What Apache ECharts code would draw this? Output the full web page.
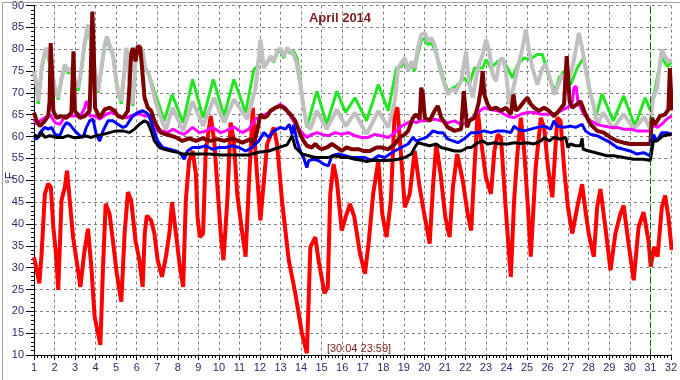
<!DOCTYPE html>
<html>
<head>
<meta charset="utf-8">
<script src="https://cdn.jsdelivr.net/npm/echarts@6/dist/echarts.min.js"></script>
<style>html,body{margin:0;padding:0;background:#fff}#c{width:680px;height:380px}</style>
</head>
<body>
<div id="c"></div>
<script>
// ---- data (day of month, °F) ----
var titleText = 'April 2014';
var stampText = '[30:04 23:59]';
var unitText = '°F';
var endDay = 31;

var red = [[1.0,32.4],[1.1,30.2],[1.26,26.4],[1.37,33.2],[1.53,46.9],[1.69,49.2],[1.82,48.4],[1.94,39.3],[2.07,33.2],[2.18,24.9],[2.34,45.4],[2.5,48.4],[2.61,52.2],[2.74,45.4],[2.9,37.0],[3.07,31.7],[3.26,25.6],[3.44,33.2],[3.63,38.9],[3.79,30.2],[3.95,18.8],[4.23,12.3],[4.36,30.2],[4.49,44.6],[4.68,42.3],[4.84,36.2],[5.03,28.6],[5.25,22.2],[5.41,37.8],[5.57,47.3],[5.73,45.4],[5.94,36.2],[6.13,31.7],[6.29,25.6],[6.39,37.8],[6.49,41.9],[6.7,40.8],[6.86,37.8],[7.02,31.7],[7.23,27.9],[7.42,32.5],[7.59,37.8],[7.72,45.0],[7.91,37.8],[8.1,30.2],[8.26,25.6],[8.39,45.4],[8.55,54.5],[8.72,56.7],[8.88,51.4],[8.96,41.6],[9.07,37.0],[9.23,37.8],[9.36,56.7],[9.6,64.7],[9.77,59.0],[9.93,48.4],[10.09,37.8],[10.22,31.7],[10.41,45.4],[10.57,63.2],[10.73,59.0],[10.89,46.9],[11.14,37.8],[11.3,32.5],[11.46,49.2],[11.65,66.6],[11.8,55.0],[12.02,40.8],[12.35,58.3],[12.67,62.1],[12.83,58.3],[13.07,45.4],[13.4,31.7],[13.72,24.1],[14.04,15.0],[14.28,10.4],[14.37,22.6],[14.45,34.7],[14.69,37.0],[14.85,31.7],[15.14,24.1],[15.3,25.6],[15.42,46.9],[15.58,53.7],[15.74,49.9],[15.98,38.5],[16.17,41.6],[16.38,44.6],[16.59,41.6],[16.87,33.2],[17.11,28.6],[17.3,36.2],[17.51,46.9],[17.76,54.5],[17.95,42.3],[18.16,37.0],[18.37,45.4],[18.56,65.9],[18.69,66.6],[18.85,56.7],[19.05,43.8],[19.29,46.9],[19.53,56.7],[19.77,48.4],[20.02,41.6],[20.26,35.5],[20.42,48.4],[20.58,58.3],[20.79,51.4],[21.02,41.6],[21.23,37.0],[21.39,48.4],[21.6,56.0],[21.87,49.9],[22.11,42.3],[22.28,38.5],[22.44,52.9],[22.6,65.9],[22.76,59.0],[23.0,50.6],[23.24,46.9],[23.41,56.7],[23.57,60.5],[23.73,59.8],[23.89,48.4],[24.05,37.8],[24.21,27.9],[24.37,45.4],[24.54,56.7],[24.7,64.3],[24.86,56.7],[25.02,45.4],[25.18,32.5],[25.42,52.9],[25.67,64.3],[25.83,62.1],[26.02,52.9],[26.23,46.1],[26.47,64.3],[26.63,63.6],[26.8,52.9],[26.99,43.8],[27.2,37.8],[27.44,43.8],[27.68,49.1],[27.84,43.1],[28.0,37.8],[28.25,32.5],[28.41,43.8],[28.57,48.0],[28.81,39.3],[29.06,29.4],[29.3,37.8],[29.54,42.3],[29.7,44.2],[29.94,35.5],[30.19,27.1],[30.43,39.3],[30.67,42.7],[30.91,36.2],[31.02,30.2],[31.19,34.7],[31.35,32.5],[31.56,43.8],[31.72,46.5],[31.88,41.6],[32.04,34.0]];

var green = [[1.0,74.5],[1.13,71.0],[1.21,67.5],[1.37,75.0],[1.53,79.0],[1.61,79.5],[1.69,78.0],[1.86,75.0],[2.02,70.5],[2.18,68.5],[2.34,73.0],[2.5,76.0],[2.66,74.5],[2.82,75.0],[2.99,72.0],[3.15,70.5],[3.31,75.0],[3.47,81.0],[3.63,84.5],[3.71,83.5],[3.79,80.5],[3.95,75.0],[4.12,70.0],[4.28,75.0],[4.44,80.5],[4.55,82.0],[4.68,80.5],[4.84,78.5],[4.97,73.5],[5.08,70.0],[5.25,67.5],[5.41,75.0],[5.49,79.5],[5.57,78.0],[5.65,72.0],[5.81,67.0],[5.97,79.0],[6.13,80.5],[6.29,79.0],[6.42,75.5],[6.59,74.5],[6.75,72.0],[6.91,69.5],[7.07,67.5],[7.34,63.6],[7.72,69.6],[8.26,63.2],[8.72,73.1],[9.23,64.3],[9.73,73.1],[10.25,64.7],[10.73,73.1],[11.3,65.5],[11.7,75.3],[11.86,76.0],[12.02,80.0],[12.19,75.7],[12.35,77.0],[12.51,78.0],[12.67,77.0],[12.83,79.0],[12.99,80.0],[13.15,78.0],[13.32,80.0],[13.48,79.0],[13.64,79.5],[13.8,78.0],[13.96,73.0],[14.12,67.0],[14.28,62.1],[14.77,70.4],[15.25,62.8],[15.74,70.4],[16.17,65.5],[16.62,68.9],[17.19,63.6],[17.76,71.9],[18.24,65.9],[18.64,75.7],[18.88,76.0],[19.05,77.0],[19.21,75.0],[19.37,76.5],[19.53,75.0],[19.69,79.0],[19.85,82.0],[20.02,82.5],[20.18,81.0],[20.34,81.5],[20.5,80.0],[20.74,76.5],[20.98,72.5],[21.15,70.5],[21.34,71.0],[21.55,71.5],[21.63,71.2],[21.95,73.4],[22.19,71.9],[22.44,75.7],[22.84,75.7],[23.0,77.6],[23.24,75.7],[23.57,77.2],[23.81,77.6],[24.05,75.7],[24.29,73.4],[24.54,76.5],[24.86,78.0],[25.1,77.6],[25.5,78.8],[25.75,78.8],[26.07,73.4],[26.39,70.4],[26.55,73.4],[26.8,75.0],[27.12,71.9],[27.44,75.7],[27.76,78.0],[28.09,70.0],[28.35,64.7],[28.65,69.7],[29.2,63.6],[29.7,69.3],[30.25,62.4],[30.75,68.9],[31.0,65.9],[31.05,68.0],[31.2,70.0],[31.4,75.0],[31.55,78.0],[31.7,77.0],[31.85,76.0],[32.0,77.0]];

var gray = [[1.0,75.0],[1.13,71.9],[1.21,68.1],[1.37,75.7],[1.53,79.5],[1.61,80.3],[1.69,78.8],[1.86,75.7],[2.02,71.2],[2.18,68.9],[2.34,73.4],[2.5,76.5],[2.66,75.0],[2.82,75.7],[2.99,72.7],[3.15,71.2],[3.31,75.7],[3.47,81.8],[3.63,85.6],[3.71,84.1],[3.79,81.0],[3.95,75.7],[4.12,70.4],[4.28,75.7],[4.44,81.0],[4.55,82.9],[4.68,81.0],[4.84,78.8],[4.97,74.2],[5.08,70.4],[5.25,68.1],[5.41,75.7],[5.49,80.3],[5.57,78.8],[5.65,72.7],[5.81,67.4],[5.97,79.5],[6.13,81.0],[6.29,79.5],[6.42,75.7],[6.59,74.2],[6.75,71.2],[6.91,68.1],[7.07,65.9],[7.26,63.2],[7.42,61.7],[7.75,66.6],[8.26,61.3],[8.72,68.1],[9.23,62.4],[9.77,68.9],[10.25,63.2],[10.73,68.5],[11.38,64.0],[11.6,68.0],[11.78,71.0],[11.9,76.0],[12.02,82.2],[12.19,75.7],[12.35,76.9],[12.51,78.4],[12.67,77.2],[12.83,79.5],[12.99,80.3],[13.15,78.4],[13.32,80.3],[13.48,79.5],[13.64,78.8],[13.8,76.5],[13.96,71.9],[14.12,66.6],[14.28,62.8],[14.45,61.7],[14.77,65.9],[15.25,61.7],[15.74,66.2],[16.17,62.4],[16.62,65.5],[17.19,60.5],[17.76,65.9],[18.24,62.1],[18.56,68.1],[18.72,75.7],[18.88,76.9],[19.05,78.0],[19.21,75.0],[19.37,77.2],[19.53,75.7],[19.69,80.3],[19.85,83.3],[20.02,83.7],[20.18,81.8],[20.34,82.6],[20.5,81.0],[20.74,75.7],[20.98,71.9],[21.15,69.6],[21.34,70.8],[21.55,70.4],[21.63,71.2],[21.79,72.7],[22.03,79.5],[22.19,71.9],[22.36,68.9],[22.6,75.7],[22.84,78.8],[23.0,82.2],[23.16,79.5],[23.32,74.2],[23.49,72.7],[23.65,77.2],[23.81,78.0],[23.97,75.0],[24.13,67.4],[24.37,71.9],[24.62,77.2],[24.78,80.3],[24.94,84.5],[25.1,79.5],[25.26,75.7],[25.5,71.9],[25.75,75.7],[25.91,76.5],[26.15,72.7],[26.31,69.6],[26.47,71.2],[26.71,74.2],[26.96,71.9],[27.2,75.7],[27.36,79.5],[27.52,83.7],[27.68,80.3],[27.84,75.7],[28.01,71.2],[28.25,67.0],[28.4,62.5],[28.7,65.5],[29.2,61.8],[29.7,65.2],[30.2,61.7],[30.7,64.5],[31.0,61.7],[31.08,67.0],[31.15,68.9],[31.32,71.0],[31.48,77.2],[31.56,79.9],[31.72,78.3],[31.88,77.2],[32.04,77.6]];

var maroon = [[1.0,65.5],[1.13,63.6],[1.29,62.4],[1.53,63.6],[1.69,64.7],[1.76,68.1],[1.81,81.4],[1.87,75.7],[1.94,65.9],[2.1,64.3],[2.34,64.7],[2.58,64.3],[2.82,65.5],[2.87,71.9],[2.92,79.5],[2.99,65.9],[3.23,64.3],[3.47,64.7],[3.71,65.9],[3.79,79.5],[3.84,88.6],[3.91,79.5],[3.97,66.6],[4.2,64.3],[4.44,66.2],[4.68,66.6],[4.92,65.9],[5.08,64.7],[5.33,64.3],[5.57,65.9],[5.65,71.9],[5.73,78.8],[5.81,80.3],[5.94,77.2],[6.05,80.7],[6.17,80.3],[6.26,75.7],[6.38,68.9],[6.54,66.6],[6.7,65.9],[6.86,63.6],[7.02,62.1],[7.18,60.9],[7.42,60.5],[7.67,60.2],[7.91,59.8],[8.23,59.0],[8.55,59.6],[8.88,59.0],[9.2,59.6],[9.6,59.0],[9.93,59.4],[10.25,59.0],[10.65,59.6],[11.14,58.6],[11.54,59.4],[11.7,58.3],[11.86,61.3],[12.02,65.1],[12.19,64.3],[12.35,64.7],[12.51,65.9],[12.75,66.6],[12.99,67.0],[13.15,66.6],[13.32,65.9],[13.48,65.1],[13.72,63.6],[13.96,60.5],[14.12,59.0],[14.28,57.9],[14.53,57.5],[14.69,58.3],[14.85,57.5],[15.01,57.1],[15.25,57.5],[15.5,58.3],[15.74,57.5],[15.98,56.7],[16.22,57.5],[16.46,57.1],[16.79,57.1],[17.03,56.7],[17.35,56.7],[17.67,57.5],[17.92,57.5],[18.24,57.1],[18.56,58.3],[18.8,59.8],[19.05,60.5],[19.21,61.3],[19.45,64.3],[19.61,65.1],[19.77,64.0],[19.85,71.2],[19.93,69.6],[20.02,64.3],[20.26,63.6],[20.5,65.9],[20.66,67.0],[20.82,64.3],[21.15,62.1],[21.47,61.3],[21.79,61.7],[21.92,70.4],[21.98,70.4],[22.08,62.1],[22.19,63.6],[22.44,64.3],[22.63,67.4],[22.76,71.2],[22.84,75.0],[22.92,69.6],[23.08,67.4],[23.24,66.2],[23.49,66.6],[23.73,65.9],[23.97,66.6],[24.21,65.1],[24.34,69.6],[24.45,65.9],[24.62,66.6],[24.86,68.1],[25.02,68.9],[25.18,67.4],[25.34,66.6],[25.58,65.9],[25.83,66.6],[26.07,65.9],[26.31,64.7],[26.55,65.9],[26.8,67.4],[26.88,74.2],[26.93,78.4],[26.99,74.2],[27.07,68.1],[27.2,66.6],[27.44,67.4],[27.6,68.1],[27.84,65.1],[28.09,62.8],[28.41,61.3],[28.73,60.9],[29.06,59.8],[29.38,59.0],[29.7,58.6],[30.02,58.3],[30.35,58.3],[31.0,58.3],[31.07,64.3],[31.23,62.8],[31.48,64.7],[31.72,65.1],[31.88,66.2],[31.95,75.7],[32.02,75.5],[32.05,66.0]];

var magenta = [[1.0,64.0],[1.13,62.8],[1.29,63.6],[1.53,64.3],[1.77,65.1],[2.02,63.2],[2.26,62.8],[2.42,64.0],[2.58,64.7],[2.82,64.7],[3.07,64.7],[3.31,65.1],[3.47,66.6],[3.55,68.1],[3.63,67.4],[3.71,64.7],[3.95,64.7],[4.2,64.0],[4.52,65.1],[4.76,65.5],[5.0,65.1],[5.25,64.3],[5.49,64.3],[5.73,64.7],[5.97,65.1],[6.21,65.1],[6.38,64.7],[6.59,64.7],[6.78,62.8],[7.02,61.3],[7.26,61.3],[7.5,60.9],[7.75,61.7],[8.07,60.9],[8.31,60.5],[8.72,62.1],[9.04,60.9],[9.28,61.1],[9.68,62.1],[10.09,60.9],[10.33,61.3],[10.73,62.2],[11.14,60.9],[11.46,61.7],[11.78,64.0],[12.1,64.7],[12.43,65.5],[12.75,66.5],[12.99,67.4],[13.24,66.6],[13.48,64.7],[13.72,62.8],[14.04,60.9],[14.28,59.8],[14.53,60.5],[14.77,60.9],[15.01,60.5],[15.33,60.2],[15.66,60.9],[15.98,60.5],[16.3,60.9],[16.62,60.2],[16.95,59.8],[17.27,59.8],[17.59,60.5],[17.92,60.2],[18.24,59.8],[18.56,60.9],[18.8,62.1],[19.05,62.8],[19.37,63.6],[19.61,63.2],[19.85,63.7],[20.18,63.6],[20.5,64.0],[20.82,63.6],[21.15,63.2],[21.47,63.6],[21.79,62.8],[22.11,63.0],[22.28,64.0],[22.6,65.5],[22.92,66.6],[23.24,66.2],[23.57,65.9],[24.05,64.7],[24.37,64.3],[24.7,65.1],[25.02,65.5],[25.34,65.5],[25.67,65.1],[25.99,65.1],[26.31,65.2],[26.63,65.9],[26.96,66.6],[27.2,67.8],[27.28,71.2],[27.39,71.5],[27.47,68.1],[27.76,65.1],[28.09,63.6],[28.41,62.8],[28.73,62.4],[29.06,62.1],[29.38,62.1],[29.7,61.7],[30.02,61.7],[30.35,61.3],[30.67,61.3],[31.0,61.3],[31.15,62.7],[31.32,62.1],[31.56,62.8],[31.8,64.0],[32.04,64.7]];

var blue = [[1.0,59.8],[1.13,59.4],[1.29,60.9],[1.53,62.1],[1.69,61.7],[1.86,62.1],[2.02,60.5],[2.26,60.2],[2.42,62.1],[2.58,63.2],[2.74,62.8],[2.99,61.3],[3.23,60.2],[3.39,59.8],[3.55,62.1],[3.71,63.6],[3.87,64.0],[4.03,60.5],[4.2,59.0],[4.36,61.3],[4.6,63.6],[4.84,63.6],[5.08,62.8],[5.33,62.1],[5.49,62.4],[5.65,63.6],[5.81,64.7],[6.05,65.5],[6.29,65.9],[6.46,65.5],[6.62,64.7],[6.78,62.1],[7.02,59.0],[7.26,57.5],[7.59,57.1],[7.91,56.7],[8.15,56.0],[8.31,54.8],[8.47,56.7],[8.72,57.5],[9.04,57.5],[9.36,57.9],[9.68,57.1],[10.0,57.5],[10.33,57.5],[10.65,57.9],[10.98,57.5],[11.3,56.7],[11.62,57.5],[11.94,59.0],[12.19,60.9],[12.43,59.8],[12.67,61.3],[12.99,62.1],[13.24,61.7],[13.43,62.8],[13.56,60.5],[13.64,62.7],[13.8,59.0],[13.96,56.7],[14.12,55.2],[14.28,52.9],[14.37,54.5],[14.61,54.8],[14.85,54.5],[15.09,53.7],[15.33,53.3],[15.5,55.6],[15.82,56.0],[16.14,55.6],[16.46,55.2],[16.79,55.2],[17.11,55.2],[17.43,54.5],[17.76,55.6],[18.08,55.2],[18.32,56.0],[18.56,56.7],[18.88,57.5],[19.21,58.3],[19.45,59.8],[19.61,59.0],[19.85,59.4],[20.1,59.8],[20.26,60.5],[20.42,61.3],[20.66,60.9],[20.9,60.9],[21.15,59.4],[21.39,59.0],[21.63,58.6],[21.95,59.5],[22.28,60.9],[22.6,60.9],[22.92,61.3],[23.24,60.9],[23.57,61.3],[23.89,61.3],[24.21,60.9],[24.37,62.4],[24.54,61.7],[24.86,61.3],[25.18,61.7],[25.5,62.1],[25.83,62.4],[26.15,61.7],[26.31,63.6],[26.47,62.4],[26.8,62.1],[27.12,62.4],[27.36,62.1],[27.68,62.8],[27.84,61.3],[28.09,60.5],[28.41,60.2],[28.73,59.4],[29.06,58.6],[29.38,57.5],[29.7,57.1],[30.02,56.7],[30.35,56.0],[30.67,56.3],[31.0,55.6],[31.15,60.5],[31.32,59.0],[31.56,60.9],[31.8,60.9],[32.04,60.5]];

var black = [[1.0,60.5],[1.21,59.8],[1.37,60.9],[1.53,59.8],[1.77,60.2],[2.1,59.8],[2.42,59.8],[2.66,60.2],[2.9,59.8],[3.23,59.8],[3.47,60.2],[3.79,59.8],[4.03,60.2],[4.36,60.5],[4.68,60.9],[5.0,61.3],[5.33,61.3],[5.65,60.9],[5.89,61.7],[6.13,62.8],[6.38,63.6],[6.54,63.2],[6.7,61.3],[6.86,59.0],[7.1,57.5],[7.34,57.1],[7.67,56.7],[7.99,56.4],[8.23,56.0],[8.88,56.0],[9.52,56.0],[10.17,55.8],[10.81,55.8],[11.46,55.8],[11.94,56.4],[12.43,56.7],[12.91,57.5],[13.32,58.1],[13.56,60.2],[13.72,57.5],[14.04,56.0],[14.37,55.6],[14.69,55.2],[15.01,55.2],[15.33,55.2],[15.66,55.6],[15.98,55.2],[16.3,55.2],[16.62,54.8],[16.95,54.6],[17.19,54.3],[17.43,54.5],[17.76,54.5],[18.08,54.5],[18.4,54.6],[18.72,54.8],[19.05,55.2],[19.37,56.0],[19.53,57.5],[19.69,58.6],[19.93,58.3],[20.26,57.9],[20.58,58.3],[20.82,57.5],[21.15,57.1],[21.47,56.7],[21.79,56.7],[22.11,57.5],[22.28,57.5],[22.6,58.6],[22.84,59.0],[23.08,58.3],[23.41,58.6],[23.73,58.3],[24.05,58.3],[24.37,58.6],[24.7,58.4],[25.02,58.6],[25.34,58.3],[25.67,59.0],[25.83,59.8],[26.07,59.0],[26.31,59.8],[26.63,59.4],[26.88,59.8],[26.99,57.5],[27.12,58.3],[27.36,57.9],[27.6,57.9],[27.68,59.6],[27.73,57.1],[28.01,56.7],[28.25,56.4],[28.57,56.0],[28.89,55.6],[29.22,55.6],[29.7,55.2],[30.19,54.8],[30.67,54.8],[31.0,54.5],[31.15,59.0],[31.32,59.0],[31.64,60.2],[32.04,60.5]];

var dayMin = 1, dayMax = 32, tempMin = 10, tempMax = 90;

// ---- chart ----
var chart = echarts.init(document.getElementById('c'), null, {renderer: 'canvas'});
var labelColor = '#2c2c6c';
function line(name, data, color, width, extra) {
  var s = {name: name, type: 'line', data: data, showSymbol: false, symbol: 'none',
    lineStyle: {color: color, width: width}, itemStyle: {color: color},
    animation: false, silent: true};
  if (extra) for (var k in extra) s[k] = extra[k];
  return s;
}
chart.setOption({
  animation: false,
  backgroundColor: '#ffffff',
  grid: {left: 34, right: 6, top: 4, bottom: 25},
  xAxis: {
    type: 'value', min: dayMin, max: dayMax, interval: 1,
    axisLine: {show: true, lineStyle: {color: '#000', width: 1}},
    axisTick: {show: true, length: 5, lineStyle: {color: '#000'}},
    minorTick: {show: true, splitNumber: 6, length: 3, lineStyle: {color: '#000'}},
    axisLabel: {color: labelColor, fontSize: 11, fontFamily: 'Arial, Liberation Sans', margin: 7},
    splitLine: {show: true, lineStyle: {color: '#808080', type: [3, 3], width: 1}}
  },
  yAxis: {
    type: 'value', min: tempMin, max: tempMax, interval: 5,
    axisLine: {show: true, lineStyle: {color: '#000', width: 1}},
    axisTick: {show: true, length: 8, lineStyle: {color: '#000'}},
    minorTick: {show: true, splitNumber: 5, length: 3, lineStyle: {color: '#000'}},
    axisLabel: {color: labelColor, fontSize: 11, fontFamily: 'Arial, Liberation Sans', margin: 10},
    splitLine: {show: true, lineStyle: {color: '#808080', type: [3, 3], width: 1}}
  },
  series: [
    line('outdoor', red, '#ff0000', 4, {
      markLine: {silent: true, symbol: 'none', animation: false,
        label: {show: false},
        lineStyle: {color: '#007000', type: [6, 3], width: 1},
        data: [{xAxis: endDay}]}
    }),
    line('green', green, '#22e622', 3),
    line('gray', gray, '#c0c0c0', 4),
    line('magenta', magenta, '#ff00ff', 3),
    line('maroon', maroon, '#7c0000', 4),
    line('blue', blue, '#0000ff', 3),
    line('black', black, '#000000', 3)
  ],
  graphic: [
    {type: 'rect', left: 0, top: 0, shape: {x: 0.5, y: 0.5, width: 679, height: 379},
      style: {fill: 'none', stroke: '#a0a0a0', lineWidth: 1}, z: 100},
    {type: 'text', x: 340, y: 18, style: {text: titleText, fill: '#7a1c1c',
      font: 'bold 13px Arial, "Liberation Sans"', textAlign: 'center', textVerticalAlign: 'middle'}, z: 100},
    {type: 'text', x: 359, y: 349, style: {text: stampText, fill: '#7a1c1c',
      font: '11px Arial, "Liberation Sans"', textAlign: 'center', textVerticalAlign: 'middle'}, z: 100},
    {type: 'text', x: 11, y: 178, rotation: Math.PI / 2, style: {text: unitText, fill: labelColor,
      font: '12px Arial, "Liberation Sans"', textAlign: 'center', textVerticalAlign: 'middle'}, z: 100}
  ]
});
</script>
</body>
</html>
